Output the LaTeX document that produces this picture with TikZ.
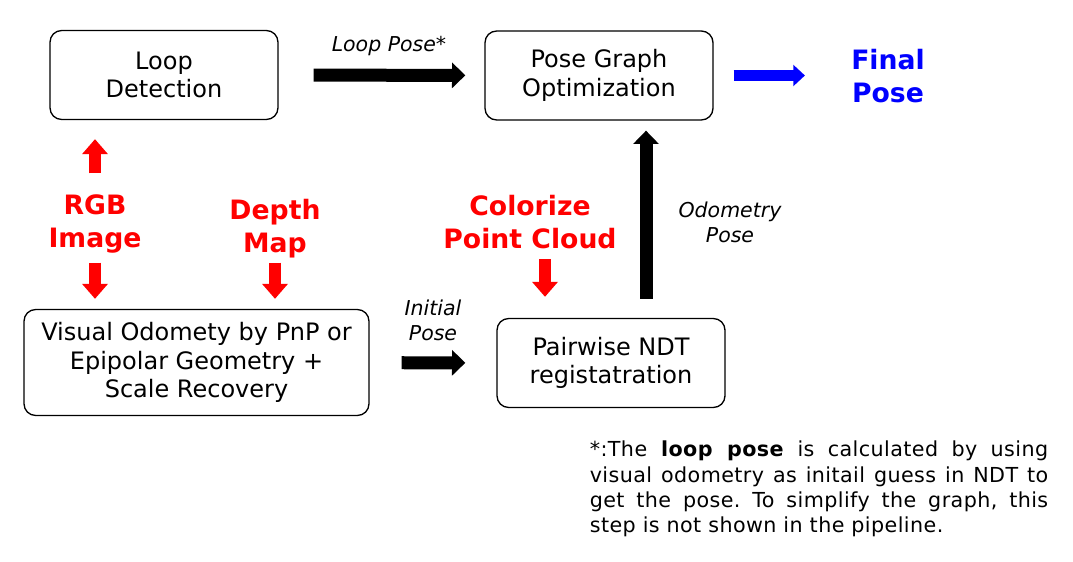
\documentclass[tikz,border=0pt]{standalone}
\usepackage{fontspec}
\setmainfont{DejaVu Sans}
\newfontfamily\notefont[LetterSpace=2]{DejaVu Sans}
\usetikzlibrary{positioning,arrows.meta}
\tikzset{
  stagebox/.style={draw=black, line width=0.8pt, rounded corners=7pt, align=center,
                   font=\fontsize{14.4}{17}\selectfont, minimum width=136.8pt, minimum height=53.4pt, inner sep=2pt},
  inputlabel/.style={text=red, align=center, inner sep=0pt, font=\fontsize{16}{19.8}\selectfont\bfseries},
  poselabel/.style={align=center, inner sep=0pt, font=\fontsize{12.3}{15}\selectfont\itshape},
  blkarrow/.style={-{Triangle[length=8pt, width=15pt]}, line width=7.8pt, draw=black},
  redarrow/.style={-{Triangle[length=9pt, width=15pt]}, line width=7.5pt, draw=red},
  bluarrow/.style={-{Triangle[length=7pt, width=12.5pt]}, line width=6.5pt, draw=blue},
}
\begin{document}
\begin{tikzpicture}[x=0.6pt, y=-0.6pt]
    \useasboundingbox (0,0) rectangle (1073,562);
    % ---------------- blocks ----------------
    \node[stagebox] (loop) at (164,75) {Loop\\ Detection};
    \node[stagebox] (pgo) at (599,75.5) {Pose Graph\\ Optimization};
    \node[stagebox, minimum width=207pt, minimum height=63.6pt] (vo) at (196.5,362.5) {Visual Odomety by PnP or\\ Epipolar Geometry +\\ Scale Recovery};
    \node[stagebox] (ndt) at (611,363) {Pairwise NDT\\ registatration};
    % ---------------- inputs ----------------
    \node[inputlabel] (rgb) at (95,224) {RGB\\ Image};
    \node[inputlabel] (depth) at (275,229) {Depth\\ Map};
    \node[inputlabel] (color) at (530,222) {Colorize\\ Point Cloud};
    \node[inputlabel, text=blue] (final) at (888,76) {Final\\ Pose};
    % ---------------- pose labels ----------------
    \node[poselabel] (lpose) at (389,46) {Loop Pose*};
    \node[poselabel] (ipose) at (433,320) {Initial\\ Pose};
    \node[poselabel] (opose) at (730,222) {Odometry\\ Pose};
    % ---------------- note ----------------
    \node[align=justify, text width=275pt, inner sep=0pt, font=\notefont\fontsize{12.4}{15.2}\selectfont\frenchspacing] (note) at (819,489)
      {*:The \textbf{loop pose} is calculated by using\linebreak visual odometry as initail guess in NDT to\linebreak get the pose. To simplify the graph, this\linebreak step is not shown in the pipeline.};
    % ---------------- arrows ----------------
    \draw[blkarrow, shorten <=21pt, shorten >=11.4pt] (loop) -- (pgo);
    \draw[bluarrow, shorten <=12pt, shorten >=27.6pt] (pgo.east) -- (pgo.east -| final.west);
    \draw[redarrow, shorten <=12.6pt, shorten >=11.4pt] (rgb.north) -- (rgb.north |- loop.south);
    \draw[redarrow, shorten <=5.4pt, shorten >=6pt] (rgb.south) -- (rgb.south |- vo.north);
    \draw[redarrow, shorten <=2.4pt, shorten >=6pt] (depth.south) -- (depth.south |- vo.north);
    \draw[redarrow, shorten <=6pt, shorten >=12.6pt] ([xshift=9pt]color.south) -- ([xshift=9pt]color.south |- ndt.north);
    \draw[blkarrow, shorten <=19.2pt, shorten >=18.6pt] (vo) -- (ndt);
    \draw[blkarrow, shorten <=11.4pt, shorten >=6pt] ([xshift=21pt]ndt.north) -- ([xshift=21pt]ndt.north |- pgo.south);
\end{tikzpicture}
\end{document}
